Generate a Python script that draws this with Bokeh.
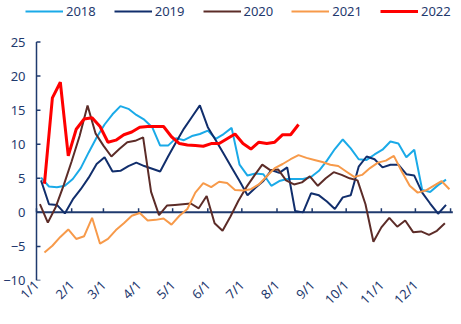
import math
import numpy as np
from bokeh.plotting import figure
from bokeh.models import Range1d, FixedTicker, Legend, LegendItem
from bokeh.embed import file_html
from bokeh.resources import INLINE

# ---- data ----
month_days = [0, 31, 59, 90, 120, 151, 181, 212, 243, 273, 304, 334]
month_labels = ["1/1", "2/1", "3/1", "4/1", "5/1", "6/1", "7/1", "8/1", "9/1", "10/1", "11/1", "12/1"]
year_end = 365
y_ticks = [-10, -5, 0, 5, 10, 15, 20, 25]

series_names = ["2018", "2019", "2020", "2021", "2022"]
week = 7

start_2018 = 4
v2018 = [5.1, 3.8, 3.7, 3.9, 4.9, 6.5, 8.8, 11.0, 12.9, 14.4, 15.6, 15.2, 14.3, 13.6, 12.5, 9.8,
         9.8, 10.9, 10.6, 11.2, 11.5, 12.0, 10.8, 11.5, 12.4, 7.0, 5.4, 5.7, 5.6, 3.9, 4.6, 4.9,
         4.9, 4.9, 5.2, 6.1, 7.6, 9.3, 10.7, 9.4, 7.8, 7.7, 8.5, 9.2, 10.4, 10.1, 8.1, 9.2,
         3.3, 3.0, 4.0, 4.8]

start_2019 = 4
v2019 = [4.7, 1.2, 1.1, -0.15, 1.9, 3.4, 5.1, 7.1, 8.1, 6.0, 6.1, 6.8, 7.3, 6.8, 6.4, 6.0,
         8.2, 10.3, 12.3, 14.0, 15.7, 12.5, 10.6, 8.6, 6.6, 4.6, 2.5, 3.6, 4.6, 6.2, 5.8, 6.6,
         0.2, 0.0, 2.8, 2.5, 1.6, 0.5, 2.2, 2.5, 6.7, 8.2, 7.8, 6.6, 7.0, 7.0, 5.6, 5.4,
         2.9, 1.3, -0.2, 1.1]

start_2020 = 3
v2020 = [1.2, -1.5, 0.8, 4.0, 7.5, 11.2, 15.7, 11.6, 9.8, 8.2, 9.3, 10.3, 10.5, 11.0, 3.0, -0.4,
         1.0, 1.1, 1.2, 1.3, 0.6, 2.4, -1.6, -2.7, -0.6, 1.7, 3.7, 5.4, 7.0, 6.2, 6.3, 4.7,
         4.1, 4.4, 5.3, 3.9, 5.0, 5.9, 5.5, 5.0, 4.7, 1.2, -4.3, -2.2, -0.8, -2.1, -1.2, -2.9,
         -2.8, -3.3, -2.7, -1.6]

start_2021 = 7
v2021 = [-5.9, -4.9, -3.6, -2.5, -3.9, -3.5, -0.8, -4.6, -3.9, -2.6, -1.6, -0.5, -0.1, -1.2, -1.1, -0.9,
         -1.8, -0.5, 0.5, 2.9, 4.3, 3.7, 4.5, 4.3, 3.3, 3.2, 3.4, 4.1, 5.3, 6.5, 7.1, 7.8,
         8.4, 8.0, 7.7, 7.4, 7.0, 6.8, 6.0, 5.2, 5.5, 6.5, 7.3, 7.6, 8.3, 6.0, 3.9, 2.9,
         3.2, 3.9, 4.6, 3.4]

start_2022 = 7
v2022 = [4.2, 16.8, 19.1, 8.3, 12.2, 13.7, 13.9, 12.6, 10.3, 10.6, 11.4, 11.8, 12.5, 12.6, 12.6, 12.6,
         11.1, 10.1, 9.9, 9.8, 9.7, 10.1, 10.1, 10.8, 11.5, 10.1, 9.3, 10.3, 10.1, 10.3, 11.4, 11.4,
         12.9]

starts = [start_2018, start_2019, start_2020, start_2021, start_2022]
values = [v2018, v2019, v2020, v2021, v2022]
colors = ["#1AAAE8", "#112E6C", "#5C2C28", "#F79A4A", "#FF0000"]
widths = [2, 2, 2, 2, 3]

NAVY = "#1F3A6E"
FONT = "Noto Sans"

# The frame is widened (left/right) and raised (top) so the legend can sit in it;
# the visible axes are drawn from the tick lists over the -10..25 / 1/1..year end span.
x_lo, x_hi = -9.7, 372.0
y_lo, y_hi = -10, 31.1

p = figure(width=461, height=324, output_backend="svg", toolbar_location=None,
           x_range=Range1d(x_lo, x_hi), y_range=Range1d(y_lo, y_hi),
           min_border_left=24, min_border_right=3, min_border_top=0, min_border_bottom=44)
p.outline_line_color = None
p.grid.visible = False
p.background_fill_color = "white"
p.border_fill_color = "white"

# y axis: labels from Bokeh, line and ticks drawn at x = 0 (1/1)
p.yaxis.ticker = FixedTicker(ticks=y_ticks)
p.yaxis.major_label_overrides = {t: (str(t).replace("-", "\u2212")) for t in y_ticks}
p.yaxis.axis_line_color = None
p.yaxis.major_tick_line_color = None
p.yaxis.minor_tick_line_color = None
p.yaxis.major_tick_in = 0
p.yaxis.major_tick_out = 0
p.yaxis.major_label_text_color = NAVY
p.yaxis.major_label_text_font = FONT
p.yaxis.major_label_text_font_size = "13px"
p.yaxis.major_label_standoff = 0

p.segment(x0=[0], y0=[y_ticks[0]], x1=[0], y1=[y_ticks[-1]], line_color=NAVY, line_width=1.5)
p.segment(x0=[0] * len(y_ticks), y0=y_ticks, x1=[3.5] * len(y_ticks), y1=y_ticks,
          line_color=NAVY, line_width=1.5)

# x axis: labels at the bottom, line at y = 0 with upward ticks
p.xaxis.ticker = FixedTicker(ticks=month_days)
p.xaxis.major_label_overrides = {d: l for d, l in zip(month_days, month_labels)}
p.xaxis.axis_line_color = None
p.xaxis.major_tick_line_color = None
p.xaxis.minor_tick_line_color = None
p.xaxis.major_tick_in = 0
p.xaxis.major_tick_out = 0
p.xaxis.major_label_orientation = math.pi / 4
p.xaxis.major_label_text_color = NAVY
p.xaxis.major_label_text_font = FONT
p.xaxis.major_label_text_font_size = "13px"
p.xaxis.major_label_standoff = 2

p.segment(x0=[0], y0=[0], x1=[year_end + 2], y1=[0], line_color=NAVY, line_width=2)
tick_x = month_days + [year_end]
p.segment(x0=tick_x, y0=[0] * len(tick_x), x1=tick_x, y1=[0.6] * len(tick_x),
          line_color=NAVY, line_width=1.5)

items = []
for name, s, v, c, w in zip(series_names, starts, values, colors, widths):
    x = s + week * np.arange(len(v))
    r = p.line(x, v, line_color=c, line_width=w)
    items.append(LegendItem(label=name, renderers=[r]))

legend = Legend(items=items, orientation="horizontal", location=(0, 259),
                glyph_width=38, label_standoff=3, spacing=18, padding=0, margin=0,
                label_text_font=FONT, label_text_font_size="13px", label_text_color=NAVY,
                border_line_color=None, background_fill_alpha=0)
p.add_layout(legend, "center")

open("out.html", "w").write(file_html(p, INLINE))
